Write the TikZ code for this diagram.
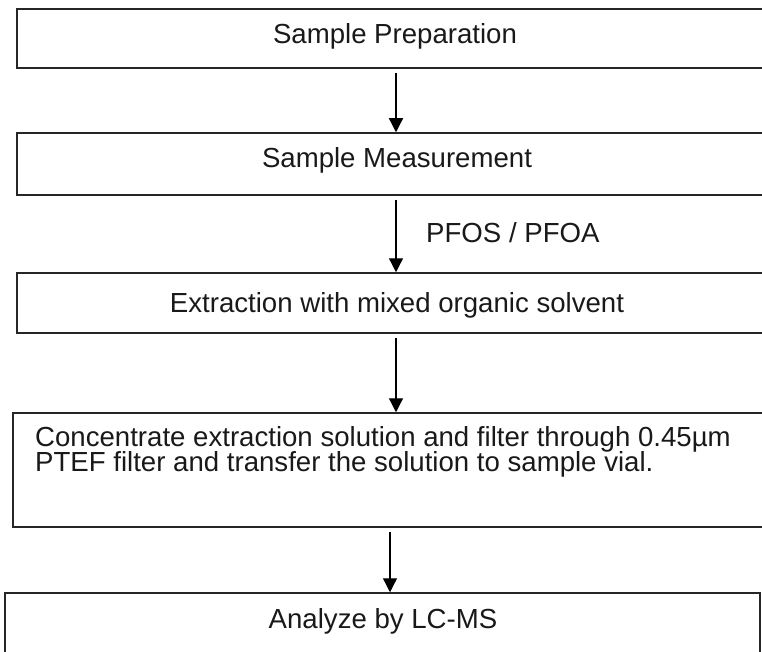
\documentclass[tikz,border=0pt]{standalone}
\usepackage{fontspec}
\setmainfont{Liberation Sans}
\usetikzlibrary{arrows.meta,calc}
\begin{document}
\begin{tikzpicture}[x=1pt,y=1pt,
  box/.style={draw=black!85, line width=1.5pt, rectangle, inner sep=0pt},
  txt/.style={font=\fontsize{27.6}{25}\selectfont, anchor=base, inner sep=0pt, text=black!90},
  arr/.style={draw=black, line width=1.3pt, shorten <=4pt, -{Triangle[width=14pt,length=14pt]}}]
\useasboundingbox (0,0) rectangle (762,-652);
\clip (0,0) rectangle (762,-652);
% boxes
\node[box, minimum width=758pt, minimum height=59pt] (b1) at (396,-38.5) {};
\node[box, minimum width=758pt, minimum height=62pt] (b2) at (396,-164) {};
\node[box, minimum width=758pt, minimum height=60pt] (b3) at (396,-303) {};
\node[box, minimum width=762pt, minimum height=114pt] (b4) at (394,-470) {};
\node[box, minimum width=755pt, minimum height=80pt] (b5) at (382.5,-633) {};
% texts
\node[txt] (t1) at (395,-44) {Sample Preparation};
\node[txt] (t2) at (397,-168) {Sample Measurement};
\node[txt] (t3) at (397,-312) {Extraction with mixed organic solvent};
\node[txt, anchor=base west] (t4a) at (35,-446) {Concentrate extraction solution and filter through 0.45µm};
\node[txt, anchor=base west] (t4b) at (35,-471) {PTEF filter and transfer the solution to sample vial.};
\node[txt] (t5) at (383,-628) {Analyze by LC-MS};
\node[txt, anchor=base west] (lab) at (426,-243) {PFOS / PFOA};
% connectors
\coordinate (a4) at (390,0);
\draw[arr] (b1.south) -- (b2.north);
\draw[arr] (b2.south) -- (b3.north);
\draw[arr] (b3.south) -- (b4.north -| b3.south);
\draw[arr] (b4.south -| a4) -- (b5.north -| a4);
\end{tikzpicture}
\end{document}
